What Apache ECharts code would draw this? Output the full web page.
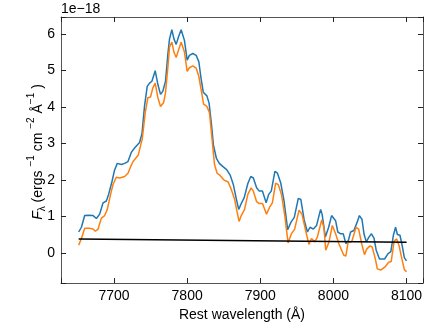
<!DOCTYPE html>
<html>
<head>
<meta charset="utf-8">
<script src="https://cdn.jsdelivr.net/npm/echarts@6/dist/echarts.min.js"></script>
<style>
	html, body { margin: 0; padding: 0; background: #fff; }
	#chart { width: 436px; height: 327px; }
</style>
</head>
<body>
<div id="chart"></div>
<script>
// flux in units of 1e-18 ergs s^-1 cm^-2 A^-1
var blueWave = [7651.7, 7655.4, 7659.9, 7664.5, 7671.4, 7675.9, 7680.4, 7685.0, 7689.5, 7692.6,
	7697.3, 7700.8, 7704.5, 7710.0, 7714.5, 7719.1, 7723.6, 7728.1, 7734.9, 7738.2,
	7741.7, 7745.4, 7748.6, 7751.8, 7756.3, 7760.0, 7763.6, 7766.8, 7770.4, 7773.7,
	7775.9, 7779.1, 7781.9, 7785.0, 7788.1, 7791.8, 7794.1, 7796.3, 7800.0, 7803.1,
	7807.8, 7812.3, 7816.0, 7818.5, 7822.0, 7827.0, 7830.0, 7833.0, 7836.0, 7840.0,
	7844.0, 7849.0, 7854.0, 7859.0, 7863.0, 7867.0, 7870.5, 7874.0, 7878.0, 7883.0,
	7887.0, 7890.5, 7895.0, 7898.6, 7903.0, 7908.0, 7911.5, 7915.0, 7920.0, 7923.5,
	7928.0, 7932.5, 7937.5, 7942.0, 7946.5, 7952.0, 7955.5, 7960.0, 7964.5, 7968.0,
	7972.5, 7977.0, 7982.5, 7984.5, 7989.0, 7993.5, 7997.5, 7999.5, 8003.0, 8006.0,
	8010.0, 8013.5, 8017.0, 8020.5, 8023.5, 8028.0, 8032.5, 8035.5, 8039.0, 8042.0,
	8045.0, 8048.5, 8052.0, 8055.5, 8058.5, 8063.0, 8070.0, 8074.5, 8078.5, 8082.0,
	8085.0, 8087.5, 8091.0, 8094.0, 8097.0, 8100.0];
var blueFlux = [0.57, 0.70, 1.02, 1.03, 1.02, 0.94, 1.06, 1.37, 1.42, 1.60,
	1.96, 2.27, 2.45, 2.42, 2.45, 2.50, 2.75, 2.87, 3.02, 3.26,
	4.02, 4.56, 4.65, 4.70, 4.99, 4.61, 4.34, 4.43, 4.70, 5.46,
	5.86, 6.11, 5.86, 5.71, 5.91, 6.11, 6.11, 5.82, 5.28, 5.41,
	5.46, 5.41, 5.23, 4.85, 4.40, 4.30, 4.10, 3.57, 2.94, 2.59,
	2.45, 2.36, 2.28, 2.12, 1.88, 1.50, 1.19, 1.35, 1.51, 1.90,
	2.09, 2.05, 1.78, 1.69, 1.69, 1.37, 1.60, 1.69, 2.23, 2.18,
	1.91, 1.42, 0.63, 0.84, 0.97, 1.49, 1.46, 0.90, 0.57, 0.70,
	0.65, 0.75, 1.19, 1.06, 0.43, 0.70, 1.02, 1.06, 0.88, 0.57,
	0.52, 0.52, 0.25, 0.34, 0.57, 0.61, 0.84, 1.02, 0.92, 0.50,
	0.30, 0.43, 0.52, 0.40, 0.07, -0.17, -0.17, -0.03, 0.03, 0.48,
	0.70, 0.50, 0.48, 0.20, -0.13, -0.22];

var orangeWave = [7651.7, 7655.4, 7659.9, 7666.6, 7671.4, 7674.5, 7678.2, 7682.7, 7687.2, 7690.8,
	7695.3, 7698.6, 7703.1, 7707.6, 7714.5, 7719.1, 7722.7, 7726.0, 7733.0, 7738.6,
	7742.7, 7746.3, 7749.9, 7753.1, 7756.3, 7760.0, 7763.6, 7767.7, 7770.4, 7773.7,
	7775.9, 7779.1, 7781.9, 7785.0, 7788.1, 7791.8, 7794.1, 7796.3, 7800.0, 7803.1,
	7807.8, 7812.3, 7816.0, 7819.1, 7822.5, 7827.0, 7830.5, 7834.0, 7837.5, 7841.0,
	7845.0, 7850.0, 7856.0, 7860.5, 7865.0, 7868.0, 7871.0, 7874.0, 7878.5, 7883.0,
	7887.5, 7890.5, 7895.0, 7898.6, 7903.0, 7908.5, 7913.0, 7916.5, 7921.0, 7924.5,
	7929.0, 7933.5, 7938.0, 7942.5, 7947.0, 7953.0, 7957.0, 7962.0, 7966.5, 7970.0,
	7974.5, 7978.0, 7984.0, 7987.0, 7989.5, 7994.0, 7998.5, 8003.0, 8007.5, 8014.0,
	8017.0, 8020.0, 8025.0, 8031.0, 8034.5, 8039.0, 8042.5, 8045.5, 8050.0, 8053.0,
	8057.5, 8060.0, 8065.0, 8071.0, 8075.5, 8079.0, 8083.0, 8086.5, 8090.0, 8093.0,
	8097.0, 8100.0];
var orangeFlux = [0.21, 0.39, 0.67, 0.67, 0.65, 0.59, 0.65, 0.95, 1.02, 1.19,
	1.60, 1.87, 2.07, 2.05, 2.09, 2.18, 2.36, 2.50, 2.67, 3.12,
	3.84, 4.25, 4.27, 4.52, 4.65, 4.25, 4.01, 4.11, 4.38, 5.10,
	5.64, 5.77, 5.50, 5.35, 5.55, 5.77, 5.77, 5.50, 4.97, 5.07,
	5.12, 5.06, 4.83, 4.47, 4.07, 4.01, 3.84, 3.12, 2.41, 2.18,
	2.12, 2.00, 1.94, 1.73, 1.46, 1.15, 0.86, 1.02, 1.19, 1.60,
	1.78, 1.69, 1.40, 1.35, 1.35, 1.06, 1.26, 1.37, 1.91, 1.87,
	1.60, 1.02, 0.27, 0.52, 0.65, 1.17, 1.06, 0.61, 0.23, 0.39,
	0.30, 0.43, 0.90, 0.70, 0.07, 0.30, 0.75, 0.52, 0.25, -0.06,
	-0.09, 0.28, 0.30, 0.70, 0.65, 0.22, -0.05, 0.10, 0.19, 0.16,
	-0.18, -0.44, -0.47, -0.38, -0.26, -0.24, 0.32, 0.38, 0.18, -0.11,
	-0.46, -0.52];

// continuum
var contWave = [7651.7, 8100.0];
var contFlux = [0.38, 0.29];

var xMin = 7627.5, xMax = 8122.5;
var yMin = -0.83, yMax = 6.46;

function pairs(xs, ys) {
	return xs.map(function(x, i) { return [x, ys[i]]; });
}

var font = '"Liberation Sans", Arial, sans-serif';
var spine = '#555';

// y label pieces: text, size, italic, shift (negative = raised)
var yLabelParts = [
	['F', 14, true, 0],
	['λ', 10, false, 4],
	[' (ergs ', 14, false, 0],
	['−1', 10, false, -7],
	[' cm ', 14, false, 0],
	['−2', 10, false, -7],
	[' Å', 14, false, 0],
	['−1', 10, false, -7],
	[' )', 14, false, 0]
];

function buildYLabel() {
	var ctx = document.createElement('canvas').getContext('2d');
	var parts = yLabelParts.map(function(p) {
		var f = (p[2] ? 'italic ' : '') + p[1] + 'px ' + font;
		ctx.font = f;
		return { text: p[0], font: f, w: ctx.measureText(p[0]).width, dy: p[3] };
	});
	var total = parts.reduce(function(s, p) { return s + p.w; }, 0);
	var x = -total / 2;
	var children = parts.map(function(p) {
		var el = {
			type: 'text',
			x: x,
			y: p.dy,
			style: { text: p.text, font: p.font, fill: '#000', verticalAlign: 'middle', align: 'left' }
		};
		x += p.w;
		return el;
	});
	return {
		type: 'group',
		x: 38,
		y: 152,
		rotation: Math.PI / 2,
		children: children
	};
}

var chart = echarts.init(document.getElementById('chart'));
chart.setOption({
	animation: false,
	textStyle: { fontFamily: font },
	grid: { left: 61, right: 13, top: 17, bottom: 40 },
	graphic: [{
		type: 'text',
		left: 61,
		top: 2,
		style: { text: '1e\u221218', font: '14px ' + font, fill: '#000' }
	}, buildYLabel()],
	xAxis: [{
		type: 'value',
		position: 'bottom',
		min: xMin,
		max: xMax,
		splitNumber: 5,
		name: 'Rest wavelength (Å)',
		nameLocation: 'middle',
		nameGap: 20,
		nameTextStyle: { color: '#000', fontSize: 14, fontFamily: font, verticalAlign: 'top' },
		axisLine: { onZero: false, lineStyle: { color: spine, width: 1 } },
		axisTick: { inside: true, length: 5, lineStyle: { color: '#222' } },
		axisLabel: {
			color: '#000', fontSize: 14, margin: 6,
			formatter: function(v) { return v % 100 === 0 ? String(v) : ''; }
		},
		splitLine: { show: false }
	}, {
		type: 'value',
		position: 'top',
		min: xMin,
		max: xMax,
		splitNumber: 5,
		axisLine: { onZero: false, lineStyle: { color: spine, width: 1 } },
		axisTick: { inside: true, length: 5, lineStyle: { color: '#222' } },
		axisLabel: { show: false },
		splitLine: { show: false }
	}],
	yAxis: [{
		type: 'value',
		position: 'left',
		min: yMin,
		max: yMax,
		splitNumber: 6,
		axisLine: { onZero: false, lineStyle: { color: spine, width: 1 } },
		axisTick: { inside: true, length: 5, lineStyle: { color: '#222' } },
		axisLabel: {
			color: '#000', fontSize: 14, margin: 6,
			formatter: function(v) { return Number.isInteger(v) ? String(v) : ''; }
		},
		splitLine: { show: false }
	}, {
		type: 'value',
		position: 'right',
		min: yMin,
		max: yMax,
		splitNumber: 6,
		axisLine: { onZero: false, lineStyle: { color: spine, width: 1 } },
		axisTick: { inside: true, length: 5, lineStyle: { color: '#222' } },
		axisLabel: { show: false },
		splitLine: { show: false }
	}],
	series: [{
		type: 'line',
		data: pairs(blueWave, blueFlux),
		showSymbol: false,
		lineStyle: { color: '#1f77b4', width: 1.5 },
		itemStyle: { color: '#1f77b4' }
	}, {
		type: 'line',
		data: pairs(orangeWave, orangeFlux),
		showSymbol: false,
		lineStyle: { color: '#ff7f0e', width: 1.5 },
		itemStyle: { color: '#ff7f0e' }
	}, {
		type: 'line',
		data: pairs(contWave, contFlux),
		showSymbol: false,
		lineStyle: { color: '#000', width: 1.5 },
		itemStyle: { color: '#000' }
	}]
});
</script>
</body>
</html>
